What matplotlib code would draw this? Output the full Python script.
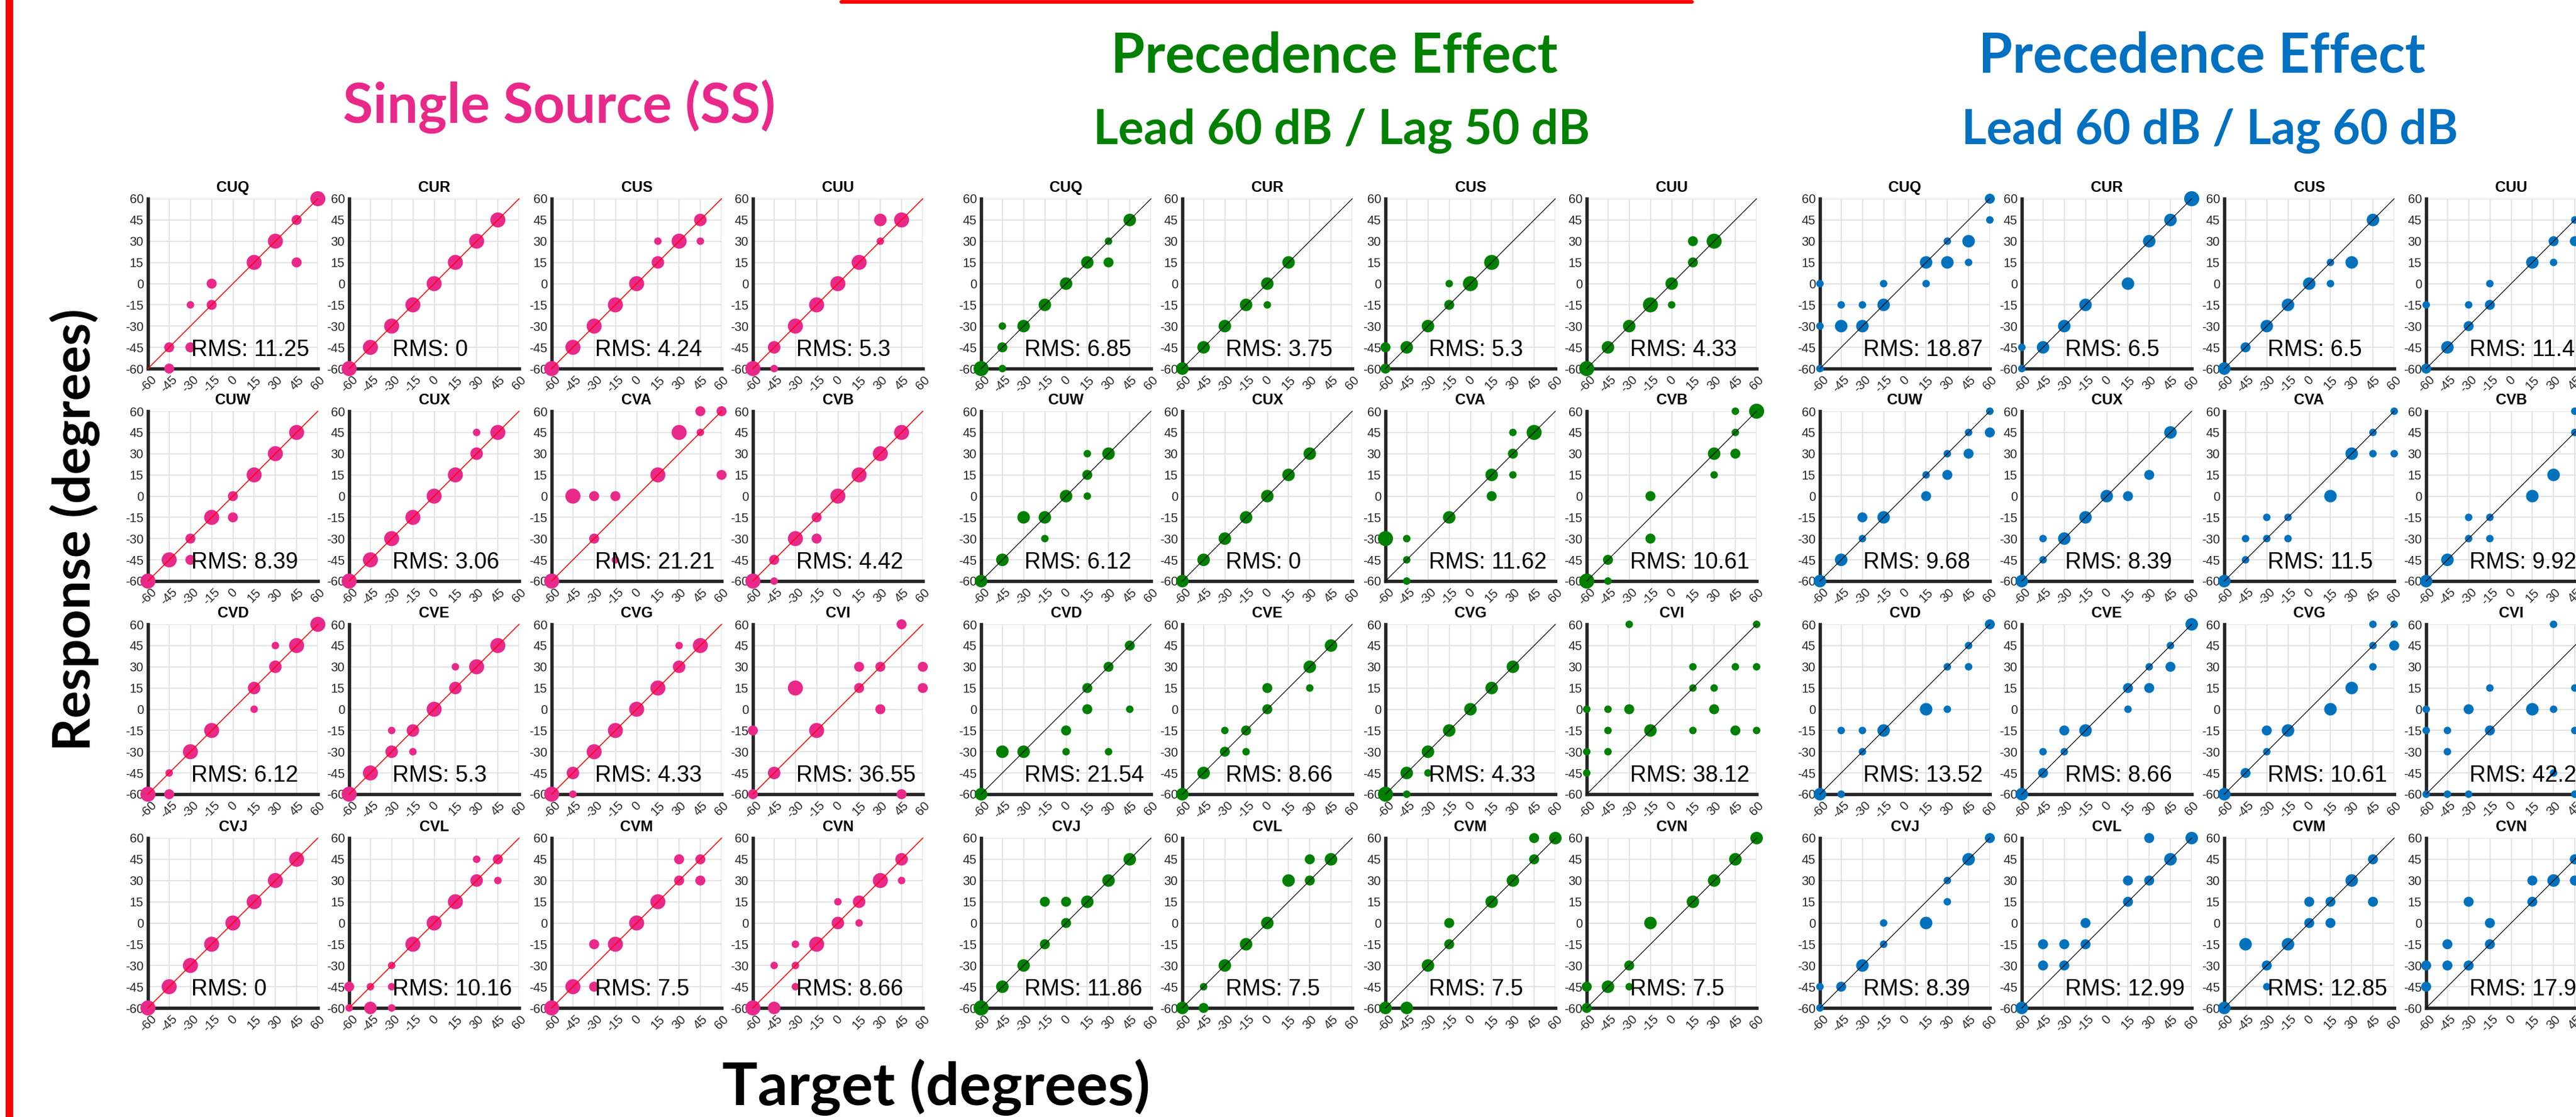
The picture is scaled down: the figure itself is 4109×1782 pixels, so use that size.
import matplotlib
matplotlib.use("Agg")
import matplotlib.pyplot as plt
from matplotlib.lines import Line2D

# ---------------- data ----------------
SUBJECTS = ["CUQ", "CUR", "CUS", "CUU",
            "CUW", "CUX", "CVA", "CVB",
            "CVD", "CVE", "CVG", "CVI",
            "CVJ", "CVL", "CVM", "CVN"]

GROUP_TITLES = ["Single Source (SS)", "Precedence Effect", "Precedence Effect"]
GROUP_SUBTITLES = ["", "Lead 60 dB / Lag 50 dB", "Lead 60 dB / Lag 60 dB"]

SS_RMS = [11.25, 0, 4.24, 5.3, 8.39, 3.06, 21.21, 4.42,
          6.12, 5.3, 4.33, 36.55, 0, 10.16, 7.5, 8.66]
PE50_RMS = [6.85, 3.75, 5.3, 4.33, 6.12, 0, 11.62, 10.61,
            21.54, 8.66, 4.33, 38.12, 11.86, 7.5, 7.5, 7.5]
PE60_RMS = [18.87, 6.5, 6.5, 11.4, 9.68, 8.39, 11.5, 9.92,
            13.52, 8.66, 10.61, 42.2, 8.39, 12.99, 12.85, 17.9]

# (target, response, number of responses) for each subject
SS_POINTS = [
    [(60, 60, 4), (45, 45, 2), (45, 15, 2), (30, 30, 4), (15, 15, 4), (-15, 0, 2), (-15, -15, 2),
     (-30, -15, 1), (-30, -45, 2), (-45, -45, 2), (-45, -60, 2)],
    [(45, 45, 4), (30, 30, 4), (15, 15, 4), (0, 0, 4), (-15, -15, 4), (-30, -30, 4), (-45, -45, 4), (-60, -60, 4)],
    [(45, 45, 3), (45, 30, 1), (30, 30, 4), (15, 30, 1), (15, 15, 3), (0, 0, 4), (-15, -15, 4), (-30, -30, 4),
     (-45, -45, 4), (-60, -60, 4)],
    [(45, 45, 4), (30, 45, 3), (30, 30, 1), (15, 15, 4), (0, 0, 4), (-15, -15, 4), (-30, -30, 4), (-45, -45, 3),
     (-45, -60, 1), (-60, -60, 4)],
    [(45, 45, 4), (30, 30, 4), (15, 15, 4), (0, 0, 2), (0, -15, 2), (-15, -15, 4), (-30, -30, 2), (-30, -45, 2),
     (-45, -45, 4), (-60, -60, 4)],
    [(45, 45, 4), (30, 45, 1), (30, 30, 3), (15, 15, 4), (0, 0, 4), (-15, -15, 4), (-30, -30, 4), (-45, -45, 4),
     (-60, -60, 4)],
    [(45, 60, 2), (60, 60, 2), (30, 45, 4), (45, 45, 1), (60, 15, 2), (15, 15, 4), (-45, 0, 4), (-30, 0, 2),
     (-15, 0, 2), (-30, -30, 2), (-15, -45, 1), (-60, -60, 4)],
    [(45, 45, 4), (30, 30, 4), (15, 15, 4), (0, 0, 4), (-15, -15, 2), (-15, -30, 2), (-30, -30, 4), (-45, -45, 2),
     (-45, -60, 1), (-60, -60, 4)],
    [(60, 60, 4), (45, 45, 4), (30, 45, 1), (30, 30, 3), (15, 15, 3), (15, 0, 1), (-15, -15, 4), (-30, -30, 4),
     (-45, -45, 1), (-45, -60, 2), (-60, -60, 4)],
    [(45, 45, 4), (30, 30, 4), (15, 30, 1), (15, 15, 3), (0, 0, 4), (-15, -15, 3), (-30, -15, 1), (-15, -30, 1),
     (-30, -30, 3), (-45, -45, 4), (-60, -60, 4)],
    [(45, 45, 4), (30, 45, 1), (30, 30, 3), (15, 15, 4), (0, 0, 4), (-15, -15, 4), (-30, -30, 4), (-45, -45, 3),
     (-45, -60, 1), (-60, -60, 4)],
    [(45, 60, 2), (15, 30, 2), (30, 30, 2), (60, 30, 2), (-30, 15, 4), (15, 15, 2), (60, 15, 2), (30, 0, 2),
     (-60, -15, 2), (-15, -15, 4), (-45, -45, 3), (-60, -60, 2), (45, -60, 2)],
    [(45, 45, 4), (30, 30, 4), (15, 15, 4), (0, 0, 4), (-15, -15, 4), (-30, -30, 4), (-45, -45, 4), (-60, -60, 4)],
    [(45, 45, 2), (30, 45, 1), (30, 30, 3), (45, 30, 1), (15, 15, 4), (0, 0, 4), (-15, -15, 4), (-30, -30, 1),
     (-60, -45, 2), (-45, -45, 1), (-30, -45, 1), (-60, -60, 1), (-45, -60, 3), (-30, -60, 1)],
    [(45, 45, 2), (30, 45, 2), (30, 30, 2), (45, 30, 2), (15, 15, 4), (0, 0, 4), (-30, -15, 2), (-15, -15, 4),
     (-30, -45, 2), (-45, -45, 4), (-60, -60, 4)],
    [(45, 45, 3), (30, 30, 4), (45, 30, 1), (0, 15, 1), (15, 15, 3), (0, 0, 3), (15, 0, 1), (-30, -15, 1),
     (-15, -15, 4), (-45, -30, 1), (-30, -30, 1), (-30, -45, 1), (-60, -60, 4), (-45, -60, 3)],
]

PE50_POINTS = [
    [(45, 45, 3), (30, 30, 1), (15, 15, 3), (30, 15, 2), (0, 0, 3), (-15, -15, 3), (-30, -30, 3), (-45, -30, 1),
     (-45, -45, 2), (-45, -60, 1), (-60, -60, 4)],
    [(15, 15, 3), (0, 0, 3), (0, -15, 1), (-15, -15, 3), (-30, -30, 3), (-45, -45, 3), (-60, -60, 3)],
    [(15, 15, 4), (-15, 0, 1), (0, 0, 4), (-15, -15, 2), (-30, -30, 3), (-60, -45, 2), (-45, -45, 3), (-60, -60, 2)],
    [(15, 30, 2), (30, 30, 4), (15, 15, 2), (0, 0, 3), (0, -15, 1), (-15, -15, 4), (-30, -30, 3), (-45, -45, 3),
     (-60, -60, 4)],
    [(15, 30, 1), (30, 30, 3), (15, 15, 2), (15, 0, 1), (0, 0, 3), (-30, -15, 3), (-15, -15, 3), (-15, -30, 1),
     (-45, -45, 3), (-60, -60, 3)],
    [(30, 30, 3), (15, 15, 3), (0, 0, 3), (-15, -15, 3), (-30, -30, 3), (-45, -45, 3), (-60, -60, 3)],
    [(30, 45, 1), (45, 45, 4), (30, 30, 2), (15, 15, 3), (30, 15, 1), (15, 0, 2), (-15, -15, 3), (-60, -30, 4),
     (-45, -30, 1), (-45, -45, 1), (-45, -60, 1)],
    [(45, 60, 1), (60, 60, 4), (45, 45, 1), (30, 30, 3), (45, 30, 2), (30, 15, 1), (-15, 0, 2), (-15, -30, 2),
     (-45, -45, 2), (-60, -60, 4), (-45, -60, 1)],
    [(45, 45, 2), (30, 30, 2), (15, 15, 2), (15, 0, 2), (45, 0, 1), (0, -15, 2), (0, -30, 1), (30, -30, 1),
     (-45, -30, 3), (-30, -30, 3), (-60, -60, 3)],
    [(45, 45, 3), (30, 30, 3), (0, 15, 2), (30, 15, 1), (0, 0, 2), (-30, -15, 1), (-15, -15, 2), (-30, -30, 2),
     (-15, -30, 1), (-45, -45, 3), (-60, -60, 3)],
    [(30, 30, 3), (15, 15, 3), (0, 0, 3), (-15, -15, 3), (-30, -30, 3), (-45, -45, 3), (-30, -45, 1),
     (-45, -60, 1), (-60, -60, 4)],
    [(-30, 60, 1), (60, 60, 1), (15, 30, 1), (45, 30, 1), (60, 30, 1), (15, 15, 1), (30, 15, 1), (-60, 0, 1),
     (-45, 0, 1), (-30, 0, 2), (30, 0, 2), (-45, -15, 1), (-15, -15, 3), (15, -15, 1), (45, -15, 2), (60, -15, 1),
     (-60, -30, 1), (-45, -30, 1), (-60, -45, 1)],
    [(45, 45, 3), (30, 30, 3), (-15, 15, 2), (0, 15, 2), (15, 15, 3), (0, 0, 2), (-15, -15, 2), (-30, -30, 3),
     (-45, -45, 3), (-60, -60, 4)],
    [(30, 45, 2), (45, 45, 3), (15, 30, 3), (30, 30, 2), (0, 0, 3), (-15, -15, 3), (-30, -30, 3), (-45, -45, 1),
     (-60, -60, 3), (-45, -60, 2)],
    [(45, 60, 2), (60, 60, 3), (45, 45, 2), (30, 30, 3), (15, 15, 3), (-15, 0, 2), (-15, -15, 2), (-30, -30, 3),
     (-60, -60, 3), (-45, -60, 3)],
    [(60, 60, 3), (45, 45, 3), (30, 30, 3), (15, 15, 3), (-15, 0, 3), (-30, -30, 2), (-60, -45, 2), (-45, -45, 3),
     (-30, -45, 1), (-60, -60, 2)],
]

PE60_POINTS = [
    [(60, 60, 2), (60, 45, 1), (30, 30, 1), (45, 30, 3), (15, 15, 3), (30, 15, 3), (45, 15, 1), (-60, 0, 1),
     (-15, 0, 1), (15, 0, 1), (-45, -15, 1), (-30, -15, 1), (-15, -15, 3), (-60, -30, 1), (-45, -30, 3),
     (-30, -30, 3), (-60, -60, 1)],
    [(60, 60, 4), (45, 45, 3), (30, 30, 3), (15, 0, 3), (-15, -15, 3), (-30, -30, 3), (-60, -45, 1), (-45, -45, 3),
     (-60, -60, 1)],
    [(45, 45, 3), (15, 15, 1), (30, 15, 3), (0, 0, 3), (15, 0, 1), (-15, -15, 3), (-30, -30, 3), (-45, -45, 2),
     (-60, -60, 3)],
    [(45, 45, 1), (30, 30, 2), (45, 30, 2), (15, 15, 3), (30, 15, 1), (-15, 0, 1), (-60, -15, 1), (-30, -15, 1),
     (-15, -15, 2), (-30, -30, 2), (-45, -45, 3), (-60, -60, 2)],
    [(60, 60, 1), (60, 45, 2), (45, 45, 1), (30, 30, 1), (45, 30, 2), (15, 15, 1), (30, 15, 2), (15, 0, 2),
     (-30, -15, 2), (-15, -15, 3), (-30, -30, 1), (-45, -45, 3), (-60, -60, 3)],
    [(45, 45, 3), (30, 15, 2), (0, 0, 3), (15, 0, 2), (-15, -15, 3), (-45, -30, 1), (-30, -30, 3), (-45, -45, 1),
     (-60, -60, 3)],
    [(60, 60, 1), (45, 45, 1), (30, 30, 3), (45, 30, 1), (60, 30, 1), (15, 0, 3), (-30, -15, 1), (-15, -15, 1),
     (-45, -30, 1), (-30, -30, 1), (-15, -30, 1), (-45, -45, 1), (-60, -60, 3)],
    [(45, 60, 1), (45, 45, 1), (30, 15, 3), (15, 0, 3), (-30, -15, 1), (-15, -15, 1), (-30, -30, 1), (-15, -30, 1),
     (-45, -45, 3), (-60, -60, 3)],
    [(60, 60, 2), (45, 45, 1), (30, 30, 1), (45, 30, 1), (15, 0, 3), (30, 0, 1), (-45, -15, 1), (-30, -15, 1),
     (-15, -15, 3), (-30, -30, 1), (-60, -60, 3), (-45, -60, 1)],
    [(60, 60, 3), (45, 45, 1), (30, 30, 1), (45, 30, 2), (15, 15, 2), (30, 15, 2), (15, 0, 1), (-30, -15, 2),
     (-15, -15, 3), (-45, -30, 1), (-30, -30, 1), (-45, -45, 2), (-60, -60, 3)],
    [(45, 60, 1), (60, 60, 1), (45, 45, 1), (60, 45, 2), (45, 30, 1), (30, 15, 3), (15, 0, 3), (-30, -15, 2),
     (-15, -15, 3), (-30, -30, 1), (-45, -45, 2), (-60, -60, 3)],
    [(30, 60, 1), (-15, 15, 1), (45, 15, 1), (-60, 0, 1), (-30, 0, 2), (15, 0, 3), (30, 0, 1), (-60, -15, 1),
     (-45, -15, 1), (-15, -15, 2), (45, -15, 1), (-45, -30, 1), (30, -45, 1), (-60, -60, 1), (-45, -60, 1),
     (-30, -60, 1), (45, -60, 1)],
    [(60, 60, 2), (45, 45, 3), (30, 30, 1), (30, 15, 1), (-15, 0, 1), (15, 0, 3), (-15, -15, 1), (-30, -30, 3),
     (-60, -45, 1), (-45, -45, 2), (-60, -60, 1)],
    [(30, 60, 2), (60, 60, 3), (45, 45, 3), (15, 30, 2), (30, 30, 2), (15, 15, 2), (-15, 0, 2), (-45, -15, 2),
     (-30, -15, 2), (-15, -15, 2), (-45, -30, 2), (-30, -30, 2), (-60, -60, 3)],
    [(45, 45, 2), (30, 30, 3), (0, 15, 2), (15, 15, 2), (45, 15, 2), (0, 0, 2), (15, 0, 2), (-45, -15, 3),
     (-15, -15, 3), (-30, -30, 2), (-30, -45, 1), (-60, -60, 3)],
    [(45, 45, 2), (15, 30, 2), (30, 30, 3), (45, 30, 2), (15, 15, 2), (-30, 15, 2), (-15, 0, 2), (-45, -15, 2),
     (-15, -15, 2), (-60, -30, 2), (-45, -30, 2), (-30, -30, 2), (-60, -45, 2)],
]

TICKS = [-60, -45, -30, -15, 0, 15, 30, 45, 60]

# ---------------- styling / layout ----------------
W, H, DPI = 4109, 1782, 100
PT = 72.0 / DPI  # points per pixel

GROUP_COLORS = ["#E8298A", "#008000", "#0072BD"]
TITLE_COLORS = ["#E8298A", "#008000", "#0070C0"]
LINE_COLORS = ["#FF0000", "#000000", "#000000"]
GROUP_POINTS = [SS_POINTS, PE50_POINTS, PE60_POINTS]
GROUP_RMS = [SS_RMS, PE50_RMS, PE60_RMS]

COL_LEFT = [[236, 557, 880, 1201], [1565, 1886, 2210, 2531], [2903, 3225, 3548, 3870]]
ROW_TOP = [317, 656, 996, 1337]
AX_SIZE = 271

fig = plt.figure(figsize=(W / DPI, H / DPI), dpi=DPI)
fig.patch.set_facecolor("white")

TICK_FONT = dict(family=["Liberation Sans", "DejaVu Sans"], size=14.5, color="#262626")


def marker_area(n):
    d_px = 8 + 4 * n
    return (d_px * PT) ** 2


for g in range(3):
    pts_group = GROUP_POINTS[g]
    rms_group = GROUP_RMS[g]
    for i, name in enumerate(SUBJECTS):
        r, c = divmod(i, 4)
        left = COL_LEFT[g][c]
        top = ROW_TOP[r]
        ax = fig.add_axes([left / W, 1 - (top + AX_SIZE) / H, AX_SIZE / W, AX_SIZE / H])
        ax.set_xlim(-60, 60)
        ax.set_ylim(-60, 60)
        ax.set_xticks(TICKS)
        ax.set_yticks(TICKS)
        ax.set_xticklabels([str(t) for t in TICKS], rotation=45, ha="center", va="top", **TICK_FONT)
        ax.set_yticklabels([str(t) for t in TICKS], **TICK_FONT)
        ax.tick_params(axis="both", length=0)
        ax.tick_params(axis="y", pad=5)
        ax.tick_params(axis="x", pad=6)
        ax.grid(True, color="#E0E0E0", linewidth=1.7 * PT)
        ax.set_axisbelow(True)
        for side in ("top", "right"):
            ax.spines[side].set_visible(False)
        for side in ("left", "bottom"):
            ax.spines[side].set_linewidth(5.4 * PT)
            ax.spines[side].set_color("#262626")
            ax.spines[side].set_capstyle("projecting")
            ax.spines[side].set_zorder(2.5)

        pts = pts_group[i]
        xs = [p[0] for p in pts]
        ys = [p[1] for p in pts]
        ss = [marker_area(p[2]) for p in pts]
        ax.scatter(xs, ys, s=ss, color=GROUP_COLORS[g], edgecolors="none",
                   clip_on=False, zorder=5)
        ax.plot([-60, 60], [-60, 60], color=LINE_COLORS[g],
                linewidth=(1.5 if g == 0 else 1.2) * PT, zorder=6, clip_on=False)

        ax.text(-29.4, -51.2, "RMS: %s" % ("%g" % rms_group[i]),
                fontsize=26, family=["Liberation Sans", "DejaVu Sans"],
                color="black", ha="left", va="baseline", zorder=7)
        ax.set_title(name, fontsize=17, fontweight="bold",
                     family=["Liberation Sans", "DejaVu Sans"], pad=7.8)

# group titles
TITLE_FONT = dict(family=["Lato", "DejaVu Sans"], fontweight="bold")
fig.text(892 / W, 1 - 196 / H, GROUP_TITLES[0], color=TITLE_COLORS[0], fontsize=63,
         ha="center", va="baseline", **TITLE_FONT)
fig.text(2128 / W, 1 - 115 / H, GROUP_TITLES[1], color=TITLE_COLORS[1], fontsize=63,
         ha="center", va="baseline", **TITLE_FONT)
fig.text(2140 / W, 1 - 230 / H, GROUP_SUBTITLES[1], color=TITLE_COLORS[1], fontsize=55,
         ha="center", va="baseline", **TITLE_FONT)
fig.text(3512 / W, 1 - 115 / H, GROUP_TITLES[2], color=TITLE_COLORS[2], fontsize=63,
         ha="center", va="baseline", **TITLE_FONT)
fig.text(3525 / W, 1 - 230 / H, GROUP_SUBTITLES[2], color=TITLE_COLORS[2], fontsize=55,
         ha="center", va="baseline", **TITLE_FONT)

# axis labels
fig.text(120 / W, 1 - 845 / H, "Response (degrees)", rotation=90, fontsize=59,
         ha="center", va="center", color="black", **TITLE_FONT)
fig.text(1493 / W, 1 - 1735 / H, "Target (degrees)", fontsize=68,
         ha="center", va="center", color="black", **TITLE_FONT)

# red frame pieces
fig.add_artist(Line2D([15 / W, 15 / W], [0, 1], color="red", linewidth=12 * PT,
                      transform=fig.transFigure, solid_capstyle="butt"))
fig.add_artist(Line2D([1342 / W, 2699 / W], [1 - 2.9 / H, 1 - 2.9 / H], color="red",
                      linewidth=5.8 * PT, transform=fig.transFigure, solid_capstyle="round"))

fig.savefig("out.png", dpi=DPI, facecolor="white")
